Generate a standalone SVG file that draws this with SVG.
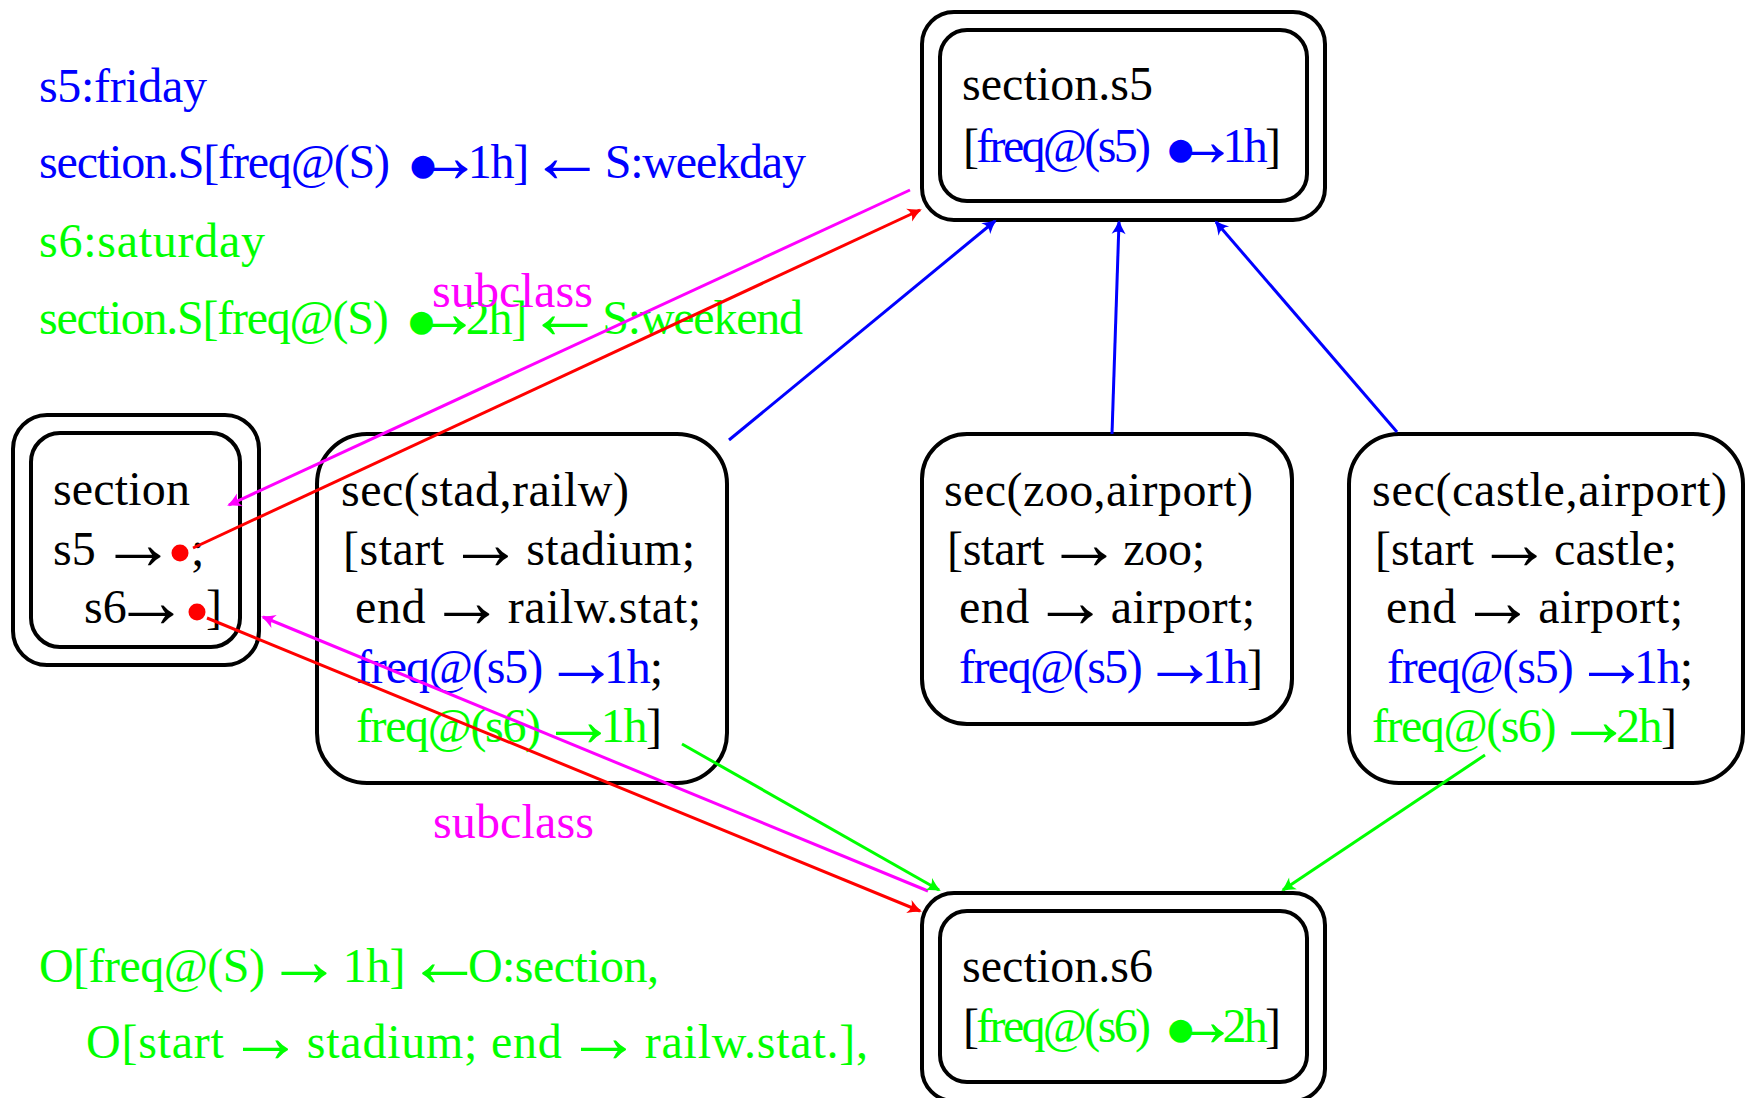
<svg xmlns="http://www.w3.org/2000/svg" width="1745" height="1098" viewBox="0 0 1745 1098">
  <style>
    text { font-family: "Liberation Serif", "DejaVu Serif", serif; font-size: 48px; fill: #000; }
    .ar { font-size: 76px; }
    .dot { font-family: "DejaVu Sans", sans-serif; font-size: 30px; }
    .blue { fill: #0000ff; }
    .green { fill: #00ff00; }
    .mag { fill: #ff00ff; }
    .box { fill: none; stroke: #000; stroke-width: 4; }
    .edge { fill: none; stroke-width: 3; }
    .e-blue { stroke: #0000ff; marker-end: url(#ah-blue); }
    .e-green { stroke: #00ff00; marker-end: url(#ah-green); }
    .e-red { stroke: #ff0000; marker-end: url(#ah-red); }
    .e-mag { stroke: #ff00ff; marker-end: url(#ah-mag); }
  </style>
  <defs>
    <!-- stealth-like arrowheads, one per connector colour -->
    <marker id="ah-blue" viewBox="-16 -10 20 20" markerWidth="20" markerHeight="20" refX="0" refY="0" orient="auto" markerUnits="userSpaceOnUse">
      <path d="M2,0 Q-5,-2.5 -12,-7 Q-7,0 -12,7 Q-5,2.5 2,0 Z" fill="#0000ff"/>
    </marker>
    <marker id="ah-green" viewBox="-16 -10 20 20" markerWidth="20" markerHeight="20" refX="0" refY="0" orient="auto" markerUnits="userSpaceOnUse">
      <path d="M2,0 Q-5,-2.5 -12,-7 Q-7,0 -12,7 Q-5,2.5 2,0 Z" fill="#00ff00"/>
    </marker>
    <marker id="ah-red" viewBox="-16 -10 20 20" markerWidth="20" markerHeight="20" refX="0" refY="0" orient="auto" markerUnits="userSpaceOnUse">
      <path d="M2,0 Q-5,-2.5 -12,-7 Q-7,0 -12,7 Q-5,2.5 2,0 Z" fill="#ff0000"/>
    </marker>
    <marker id="ah-mag" viewBox="-16 -10 20 20" markerWidth="20" markerHeight="20" refX="0" refY="0" orient="auto" markerUnits="userSpaceOnUse">
      <path d="M2,0 Q-5,-2.5 -12,-7 Q-7,0 -12,7 Q-5,2.5 2,0 Z" fill="#ff00ff"/>
    </marker>
  </defs>

  <rect x="0" y="0" width="1745" height="1098" fill="#fff"/>

  <!-- legend: season definitions -->
  <g id="legend-top">
    <text class="blue" x="39" y="102" textLength="168">s5:friday</text>
    <text class="blue" x="39" y="178" textLength="767">section.S[freq@(S) <tspan class="dot" dx="10" dy="-3">●</tspan><tspan class="ar" dx="-28" dy="7">→</tspan><tspan dx="-14" dy="-4">1h] </tspan><tspan class="ar" dx="-10" dy="4">←</tspan><tspan dx="-10" dy="-4"> S:weekday</tspan></text>
    <text class="green" x="39" y="257" textLength="226">s6:saturday</text>
    <text class="green" x="39" y="334" textLength="764">section.S[freq@(S) <tspan class="dot" dx="10" dy="-3">●</tspan><tspan class="ar" dx="-28" dy="7">→</tspan><tspan dx="-14" dy="-4">2h] </tspan><tspan class="ar" dx="-10" dy="4">←</tspan><tspan dx="-10" dy="-4"> S:weekend</tspan></text>
  </g>

  <g id="legend-bottom">
    <text class="green" x="39" y="982" textLength="620">O[freq@(S) <tspan class="ar" dx="-10" dy="4">→</tspan><tspan dx="-10" dy="-4"> 1h] </tspan><tspan class="ar" dx="-10" dy="4">←</tspan><tspan dx="-14" dy="-4">O:section,</tspan></text>
    <text class="green" x="86" y="1058" textLength="782">O[start <tspan class="ar" dx="-10" dy="4">→</tspan><tspan dx="-10" dy="-4"> stadium; end </tspan><tspan class="ar" dx="-10" dy="4">→</tspan><tspan dx="-10" dy="-4"> railw.stat.],</tspan></text>
  </g>

  <!-- nodes -->
  <g id="node-s5">
    <rect class="box" x="922" y="12" width="403" height="208" rx="32"/>
    <rect class="box" x="940" y="30" width="367" height="171" rx="27"/>
    <text x="962" y="100" textLength="191">section.s5</text>
    <text x="963" y="162" textLength="318">[<tspan class="blue">freq@(s5) <tspan class="dot" dx="10" dy="-3">●</tspan><tspan class="ar" dx="-28" dy="7">→</tspan><tspan dx="-14" dy="-4">1h</tspan></tspan>]</text>
  </g>

  <g id="node-section">
    <rect class="box" x="13" y="415" width="246" height="250" rx="34"/>
    <rect class="box" x="31" y="433" width="209" height="214" rx="29"/>
    <text x="53" y="505" textLength="137">section</text>
    <text x="53" y="565">s5 <tspan class="ar" dx="-8" dy="4">→</tspan></text>
    <text x="191" y="565">;</text>
    <text x="84" y="623">s6<tspan class="ar" dx="-14" dy="4">→</tspan></text>
    <text x="206" y="623">]</text>
  </g>

  <g id="node-stad">
    <rect class="box" x="317" y="434" width="410" height="349" rx="50"/>
    <text x="341" y="506" textLength="288">sec(stad,railw)</text>
    <text x="343" y="565" textLength="352">[start <tspan class="ar" dx="-10" dy="4">→</tspan><tspan dx="-10" dy="-4"> stadium;</tspan></text>
    <text x="355" y="623" textLength="346">end <tspan class="ar" dx="-10" dy="4">→</tspan><tspan dx="-10" dy="-4"> railw.stat;</tspan></text>
    <text x="356" y="683" textLength="307"><tspan class="blue">freq@(s5) <tspan class="ar" dx="-10" dy="4">→</tspan><tspan dx="-14" dy="-4">1h</tspan></tspan>;</text>
    <text x="356" y="742" textLength="306"><tspan class="green">freq@(s6) <tspan class="ar" dx="-10" dy="4">→</tspan><tspan dx="-14" dy="-4">1h</tspan></tspan>]</text>
  </g>

  <g id="node-zoo">
    <rect class="box" x="922" y="434" width="370" height="290" rx="45"/>
    <text x="944" y="506" textLength="309">sec(zoo,airport)</text>
    <text x="947" y="565" textLength="258">[start <tspan class="ar" dx="-10" dy="4">→</tspan><tspan dx="-10" dy="-4"> zoo;</tspan></text>
    <text x="959" y="623" textLength="296">end <tspan class="ar" dx="-10" dy="4">→</tspan><tspan dx="-10" dy="-4"> airport;</tspan></text>
    <text x="959" y="683" textLength="304"><tspan class="blue">freq@(s5) <tspan class="ar" dx="-10" dy="4">→</tspan><tspan dx="-14" dy="-4">1h</tspan></tspan>]</text>
  </g>

  <g id="node-castle">
    <rect class="box" x="1349" y="434" width="394" height="349" rx="50"/>
    <text x="1372" y="506" textLength="355">sec(castle,airport)</text>
    <text x="1375" y="565" textLength="302">[start <tspan class="ar" dx="-10" dy="4">→</tspan><tspan dx="-10" dy="-4"> castle;</tspan></text>
    <text x="1386" y="623" textLength="297">end <tspan class="ar" dx="-10" dy="4">→</tspan><tspan dx="-10" dy="-4"> airport;</tspan></text>
    <text x="1387" y="683" textLength="306"><tspan class="blue">freq@(s5) <tspan class="ar" dx="-10" dy="4">→</tspan><tspan dx="-14" dy="-4">1h</tspan></tspan>;</text>
    <text x="1372" y="742" textLength="305"><tspan class="green">freq@(s6) <tspan class="ar" dx="-10" dy="4">→</tspan><tspan dx="-14" dy="-4">2h</tspan></tspan>]</text>
  </g>

  <g id="node-s6">
    <rect class="box" x="922" y="893" width="403" height="208" rx="32"/>
    <rect class="box" x="940" y="911" width="367" height="171" rx="27"/>
    <text x="962" y="982" textLength="191">section.s6</text>
    <text x="963" y="1042" textLength="318">[<tspan class="green">freq@(s6) <tspan class="dot" dx="10" dy="-3">●</tspan><tspan class="ar" dx="-28" dy="7">→</tspan><tspan dx="-14" dy="-4">2h</tspan></tspan>]</text>
  </g>

  <!-- connectors -->
  <g id="connectors">
    <line class="edge e-mag" x1="910" y1="190" x2="229" y2="505"/>
    <line class="edge e-red" x1="193" y1="548" x2="920" y2="210"/>
    <line class="edge e-blue" x1="729" y1="440" x2="995" y2="221"/>
    <line class="edge e-blue" x1="1112" y1="434" x2="1119" y2="222"/>
    <line class="edge e-blue" x1="1397" y1="432" x2="1216" y2="222"/>
    <line class="edge e-red" x1="207" y1="618" x2="920" y2="911"/>
    <line class="edge e-mag" x1="928" y1="891" x2="263" y2="617"/>
    <line class="edge e-green" x1="682" y1="744" x2="939" y2="890"/>
    <line class="edge e-green" x1="1485" y1="755" x2="1283" y2="890"/>
    <circle cx="180" cy="553" r="8.5" fill="#ff0000"/>
    <circle cx="197" cy="612" r="8.5" fill="#ff0000"/>
    <text class="mag" x="432" y="307" textLength="161">subclass</text>
    <text class="mag" x="433" y="838" textLength="161">subclass</text>
  </g>
</svg>
